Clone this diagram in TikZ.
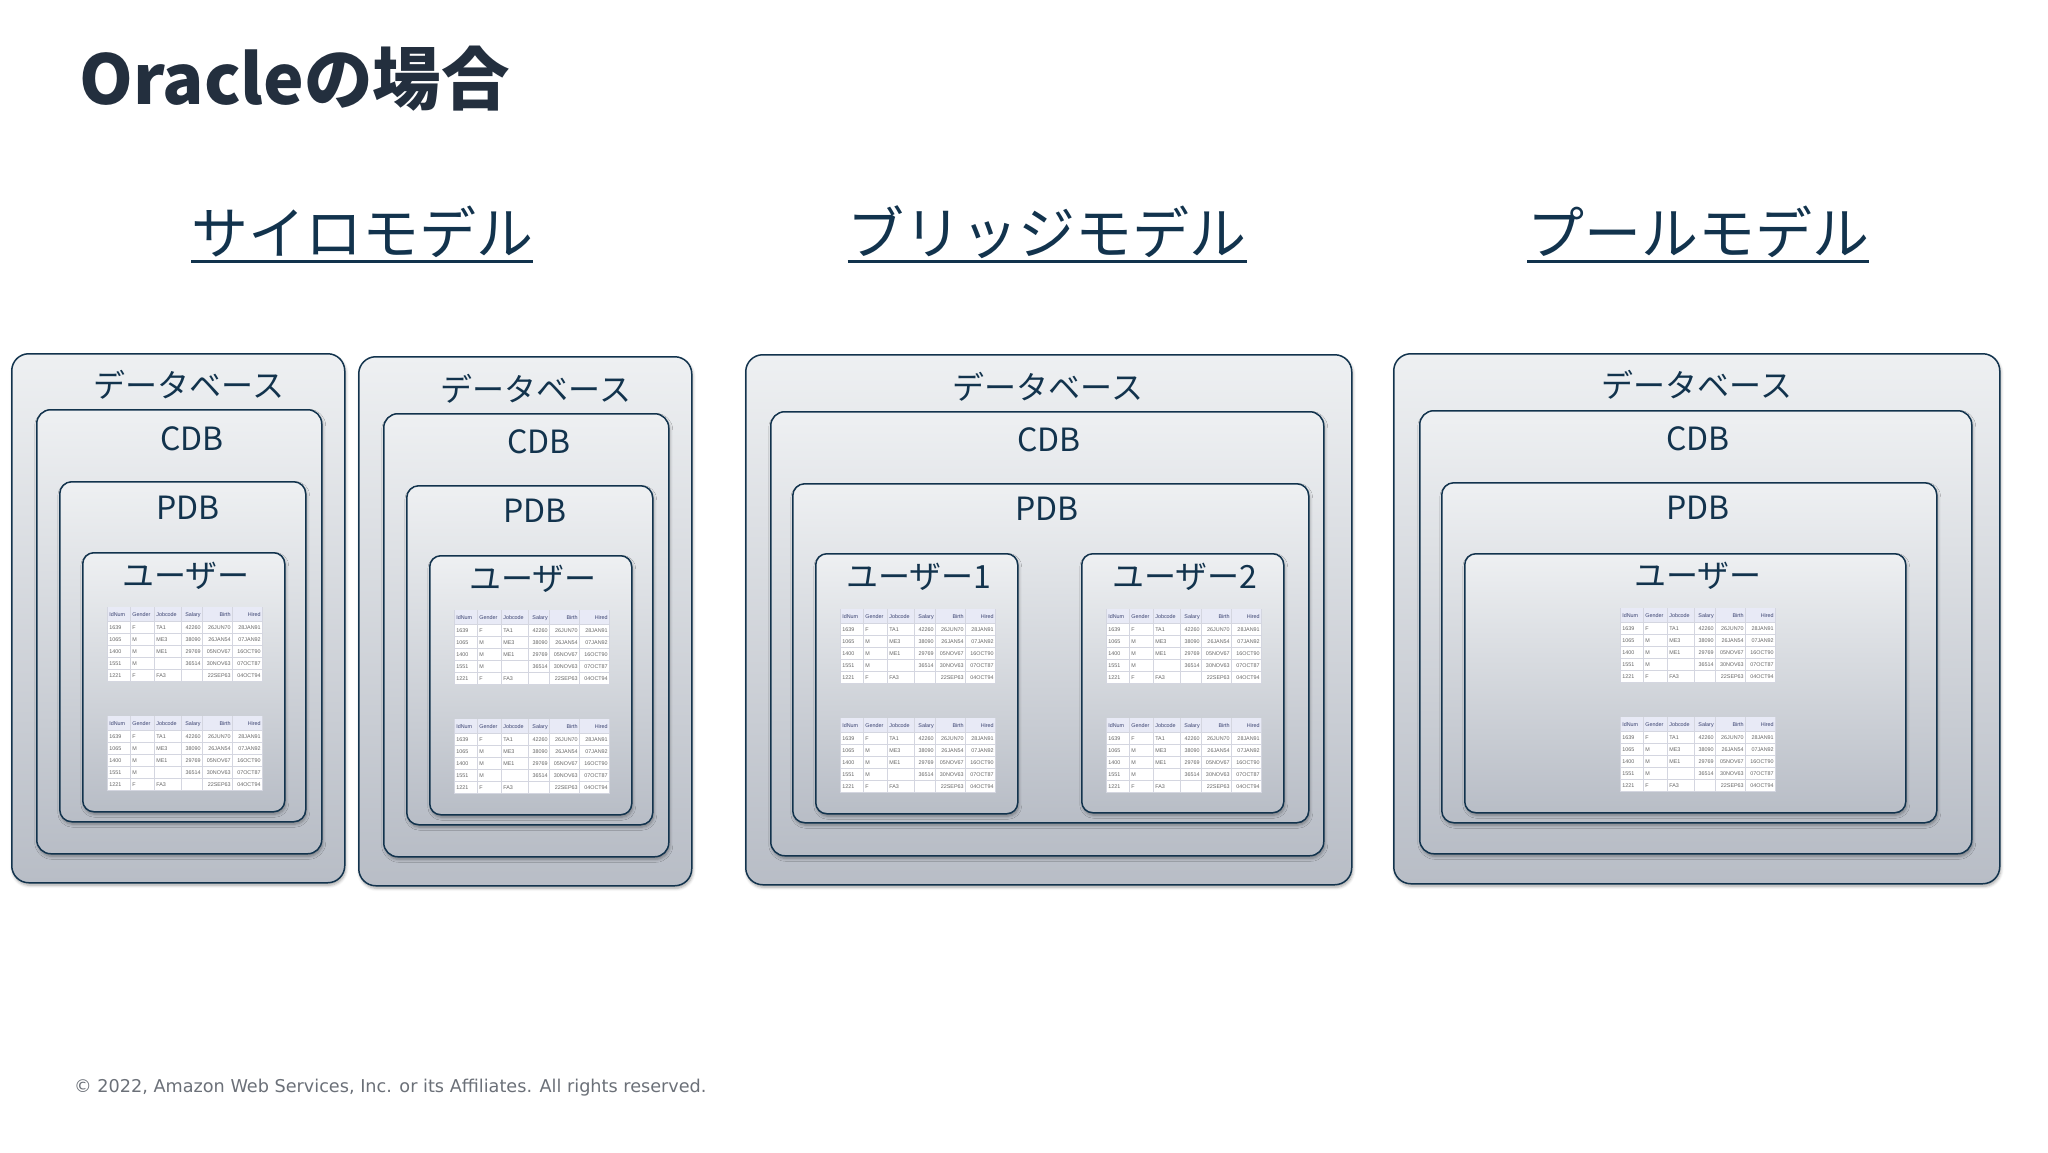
\documentclass[tikz,border=0pt]{standalone}
\usepackage{fontspec}
\usepackage{array,colortbl}
\setmainfont{Noto Sans CJK JP}
\newfontfamily\tblfont{Liberation Sans}
\newfontfamily\footfont{DejaVu Sans}
\usetikzlibrary{shadows.blur}
\definecolor{ink}{HTML}{12334D}
\definecolor{titleink}{HTML}{232F3E}
\definecolor{boxtop}{HTML}{EEF0F2}
\definecolor{boxbot}{HTML}{B8BDC6}
\definecolor{tblgrid}{HTML}{D4D6E0}
\definecolor{tblhead}{HTML}{E8EAF6}
\definecolor{tblnum}{HTML}{666666}
\definecolor{tblhd}{HTML}{3A4270}
\definecolor{footgray}{HTML}{6B7078}
\newcommand\ulx[1]{\setbox0\hbox{#1}\rlap{\rule[-8.5pt]{\wd0}{3pt}}\box0}
\newcommand\rs{\rule[-3.5pt]{0pt}{11.4pt}}
\newcommand\hs{\rule[-4.5pt]{0pt}{14pt}}
\newcolumntype{L}[1]{>{\raggedright\arraybackslash}p{#1pt}}
\newcolumntype{R}[1]{>{\raggedleft\arraybackslash}p{#1pt}}
\newcommand\hc[1]{\leavevmode\color{tblhd}#1}
\newcommand\tblbody{%
\fontsize{5.4pt}{6pt}\selectfont\tblfont\color{tblnum}%
\setlength\tabcolsep{1.5pt}\setlength\arrayrulewidth{.6pt}\arrayrulecolor{tblgrid}%
\begin{tabular}{|L{19.4}|L{20.4}|L{23.4}|R{17.4}|R{26.4}|R{26.4}|}
\hline
\rowcolor{tblhead}\hs\hc{IdNum}&\hc{Gender}&\hc{Jobcode}&\hc{Salary}&\hc{Birth}&\hc{Hired}\\\hline
\rs 1639&F&TA1&42260&26JUN70&28JAN91\\\hline
\rs 1065&M&ME3&38090&26JAN54&07JAN92\\\hline
\rs 1400&M&ME1&29769&05NOV67&16OCT90\\\hline
\rs 1551&M&&36514&30NOV63&07OCT87\\\hline
\rs 1221&F&FA3&&22SEP63&04OCT94\\\hline
\end{tabular}}
\tikzset{
 x=1pt,y=1pt,
 boxbase/.style={draw=ink,line width=1.5pt,top color=boxtop,bottom color=boxbot,inner sep=0pt,anchor=north west,
   blur shadow={shadow xshift=1pt,shadow yshift=-2.5pt,shadow blur steps=5,shadow blur radius=3pt,shadow opacity=35}},
 outerbox/.style={boxbase,rounded corners=17pt},
 cdbbox/.style={boxbase,rounded corners=14pt},
 pdbbox/.style={boxbase,rounded corners=12pt},
 userbox/.style={boxbase,rounded corners=11pt},
 lab/.style={text=ink,inner sep=0pt,font=\fontsize{32pt}{36pt}\selectfont},
 head/.style={text=ink,inner sep=0pt,font=\fontsize{57pt}{62pt}\selectfont},
 tbl/.style={inner sep=0pt,anchor=north west,fill=white}
}
% name, style, x1, y1, x2, y2
\newcommand\bx[6]{\pgfmathsetmacro\bw{#5-#3}\pgfmathsetmacro\bh{#6-#4}%
 \node[#2,minimum width=\bw pt,minimum height=\bh pt] (#1) at (#3-1,-#4+1) {};}
\newcommand\tb[3]{\node[tbl] (#1) at (#2-1,-#3+0.5) {\tblbody};}
\begin{document}
\begin{tikzpicture}
\useasboundingbox (0,0) rectangle (2048,-1152);
\node[anchor=west,inner sep=0pt,text=titleink,font=\fontsize{68.5pt}{72pt}\selectfont\bfseries] (title) at (79,-79) {Oracleの場合};
\node[head] (h1) at (362,-234) {\ulx{サイロモデル}};
\node[head] (h2) at (1047,-234) {\ulx{ブリッジモデル}};
\node[head] (h3) at (1698,-234) {\ulx{プールモデル}};
% silo A
\bx{aO}{outerbox}{12}{354}{345}{883}
\bx{aC}{cdbbox}{37}{410}{322}{854}
\bx{aP}{pdbbox}{60}{482}{306}{822}
\bx{aU}{userbox}{83}{553}{285}{812}
\tb{aT}{108}{607}
\tb{aS}{108}{716}
\node[lab] (aol) at (189,-385) {データベース};
\node[lab] (acl) at (192,-439) {CDB};
\node[lab] (apl) at (188,-508) {PDB};
\node[lab] (aul) at (186,-576) {ユーザー};
% silo B
\bx{bO}{outerbox}{359}{357}{692}{886}
\bx{bC}{cdbbox}{384}{414}{669}{857}
\bx{bP}{pdbbox}{407}{486}{653}{825}
\bx{bU}{userbox}{430}{556}{632}{815}
\tb{bT}{455}{610}
\tb{bS}{455}{719}
\node[lab] (bol) at (536,-389) {データベース};
\node[lab] (bcl) at (539,-442) {CDB};
\node[lab] (bpl) at (535,-511) {PDB};
\node[lab] (bul) at (533,-579) {ユーザー};
% bridge
\bx{cO}{outerbox}{746}{355}{1352}{885}
\bx{cC}{cdbbox}{771}{412}{1324}{856}
\bx{cP}{pdbbox}{793}{484}{1309}{823}
\bx{cU}{userbox}{816}{554}{1018}{814}
\bx{cV}{userbox}{1082}{554}{1284}{813}
\tb{cT}{841}{609}
\tb{cS}{841}{718}
\tb{cW}{1107}{609}
\tb{cX}{1107}{718}
\node[lab] (col) at (1048,-387) {データベース};
\node[lab] (ccl) at (1049,-440) {CDB};
\node[lab] (cpl) at (1047,-509) {PDB};
\node[lab] (cul) at (919,-577) {ユーザー1};
\node[lab] (cvl) at (1185,-577) {ユーザー2};
% pool
\bx{dO}{outerbox}{1394}{354}{2000}{884}
\bx{dC}{cdbbox}{1420}{411}{1972}{854}
\bx{dP}{pdbbox}{1442}{483}{1937}{823}
\bx{dU}{userbox}{1465}{554}{1906}{813}
\tb{dT}{1621}{608}
\tb{dS}{1621}{717}
\node[lab] (dol) at (1697,-385) {データベース};
\node[lab] (dcl) at (1698,-439) {CDB};
\node[lab] (dpl) at (1698,-508) {PDB};
\node[lab] (dul) at (1698,-576) {ユーザー};
\node[anchor=west,inner sep=0pt,text=footgray,font=\fontsize{17.65pt}{20pt}\selectfont\footfont] (foot) at (74,-1088) {© 2022, Amazon Web Services, Inc. or its Affiliates. All rights reserved.};
\end{tikzpicture}
\end{document}
